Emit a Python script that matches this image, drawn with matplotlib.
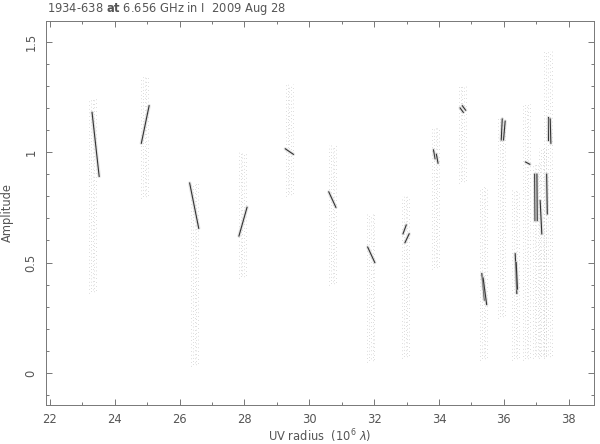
import numpy as np
import matplotlib
matplotlib.use("Agg")
from matplotlib import pyplot as plt
from matplotlib.ticker import MultipleLocator, FuncFormatter

plt.rcParams['mathtext.fontset'] = 'dejavusans'

# grey clouds of visibilities : centre uv radius, lowest and highest amplitude
cloud_x = [23.32, 24.92, 26.46, 27.93, 29.38, 30.72, 31.90, 32.97, 33.90,
           34.72, 35.38, 35.93, 36.37, 36.70, 37.00, 37.20, 37.36]
cloud_lo = [0.36, 0.79, 0.03, 0.43, 0.80, 0.40, 0.05, 0.07, 0.47,
            0.86, 0.06, 0.25, 0.06, 0.06, 0.07, 0.07, 0.07]
cloud_hi = [1.24, 1.34, 0.86, 1.00, 1.31, 1.03, 0.72, 0.80, 1.11,
            1.30, 0.84, 1.16, 0.83, 1.22, 0.95, 1.02, 1.46]

# dark tracks : start (x0, a0) and end (x1, a1)
trk_x0 = [23.30, 24.82, 26.31, 27.83, 29.26, 30.60, 31.80, 32.89, 32.95,
          33.83, 33.92, 34.65, 34.72, 35.32, 35.36, 35.95, 36.04, 36.35,
          36.38, 36.67, 36.95, 37.02, 37.12, 37.32, 37.35, 37.43]
trk_a0 = [1.18, 1.04, 0.86, 0.62, 1.015, 0.82, 0.57, 0.63, 0.59,
          1.01, 0.99, 1.20, 1.21, 0.45, 0.43, 1.15, 1.14, 0.54,
          0.50, 0.955, 0.90, 0.90, 0.78, 0.90, 1.16, 1.15]
trk_x1 = [23.52, 25.06, 26.59, 28.08, 29.51, 30.82, 32.02, 32.99, 33.08,
          33.88, 33.97, 34.75, 34.82, 35.40, 35.47, 35.92, 35.99, 36.40,
          36.42, 36.80, 36.96, 37.03, 37.17, 37.34, 37.35, 37.45]
trk_a1 = [0.89, 1.21, 0.655, 0.75, 0.99, 0.75, 0.50, 0.67, 0.63,
          0.97, 0.95, 1.18, 1.19, 0.33, 0.31, 1.055, 1.055, 0.36,
          0.38, 0.945, 0.69, 0.69, 0.63, 0.72, 1.055, 1.04]

grey = '#777777'
txt = '#555555'

fig = plt.figure(figsize=(6, 4.44), dpi=100)
ax = fig.add_axes([46/600, 1-405/444, 548/600, (405-20.7)/444])

# clouds drawn as a few sparse dotted strands
offs = [-0.11, -0.05, 0.0, 0.05, 0.11]
pats = [(0, (0.8, 4.5)), (2, (0.8, 3.7)), (1, (0.8, 5)), (3, (0.8, 4.2)), (1.5, (0.8, 4.8))]
for x, lo, hi in zip(cloud_x, cloud_lo, cloud_hi):
    for dx, ls in zip(offs, pats):
        ax.vlines(x + dx, lo, hi, colors='#acacac', linestyles=[ls], linewidth=0.5)

for x0, a0, x1, a1 in zip(trk_x0, trk_a0, trk_x1, trk_a1):
    ax.plot([x0, x1], [a0, a1], color='#cfcfcf', lw=2.5, alpha=0.5, solid_capstyle='round')
    ax.plot([x0, x1], [a0, a1], color='#333333', lw=0.8)

ax.set_xlim(21.88, 38.78)
ax.set_ylim(-0.145, 1.595)

ax.xaxis.set_major_locator(MultipleLocator(2))
ax.xaxis.set_minor_locator(MultipleLocator(1))
ax.yaxis.set_major_locator(MultipleLocator(0.5))
ax.yaxis.set_minor_locator(MultipleLocator(0.1))
ax.yaxis.set_major_formatter(FuncFormatter(lambda v, p: f"{v:g}"))
ax.tick_params(which='both', direction='in', top=True, right=True,
               color=grey, width=0.7, labelsize=8.3, labelcolor=txt)
ax.tick_params(which='major', length=4.2, pad=6)
ax.tick_params(which='minor', length=2)
plt.setp(ax.get_yticklabels(), rotation=90, va='center')
for s in ax.spines.values():
    s.set_color(grey)
    s.set_linewidth(0.7)

ax.set_xlabel(r"UV radius  (10$^6$ $\lambda$)", fontsize=8.3, color=txt, labelpad=1)
ax.set_ylabel("Amplitude", fontsize=8.3, color=txt, labelpad=8)
fig.text(47/600, 1-8.5/444, r"1934-638 $\mathbf{at}$ 6.656 GHz in I  2009 Aug 28",
         fontsize=8.3, color=txt, va='center', ha='left')

fig.savefig("out.png", dpi=100)
